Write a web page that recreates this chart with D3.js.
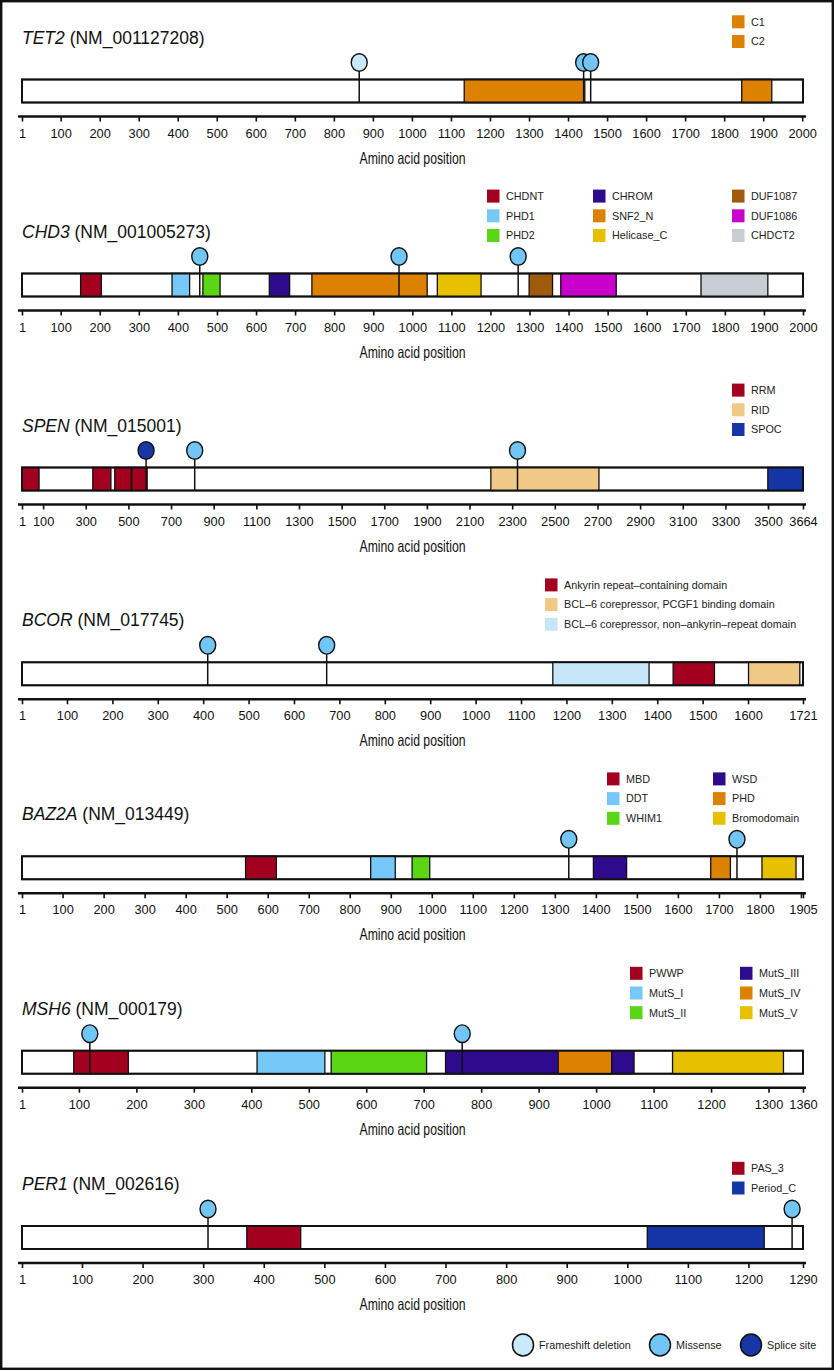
<!DOCTYPE html>
<html><head><meta charset="utf-8">
<script src="https://cdn.jsdelivr.net/npm/d3@7"></script>
<style>
html,body{margin:0;padding:0;background:#fff;}
svg{display:block;}
.t{font-family:"Liberation Sans",Arial,Helvetica,sans-serif;}
</style></head>
<body>
<script>
// ---------------- data ----------------
const genes = ["TET2","CHD3","SPEN","BCOR","BAZ2A","MSH6","PER1"];
const transcripts = ["NM_001127208","NM_001005273","NM_015001","NM_017745","NM_013449","NM_000179","NM_002616"];
const proteinLengths = [2002,2000,3664,1721,1905,1360,1290];

const tet2Ticks = [1,100,200,300,400,500,600,700,800,900,1000,1100,1200,1300,1400,1500,1600,1700,1800,1900,2000];
const chd3Ticks = [1,100,200,300,400,500,600,700,800,900,1000,1100,1200,1300,1400,1500,1600,1700,1800,1900,2000];
const spenTicks = [1,100,300,500,700,900,1100,1300,1500,1700,1900,2100,2300,2500,2700,2900,3100,3300,3500,3664];
const bcorTicks = [1,100,200,300,400,500,600,700,800,900,1000,1100,1200,1300,1400,1500,1600,1721];
const baz2aTicks = [1,100,200,300,400,500,600,700,800,900,1000,1100,1200,1300,1400,1500,1600,1700,1800,1900,1905];
const baz2aUnlabeled = [1900];
const msh6Ticks = [1,100,200,300,400,500,600,700,800,900,1000,1100,1200,1300,1360];
const per1Ticks = [1,100,200,300,400,500,600,700,800,900,1000,1100,1200,1290];

const tet2Domains = [["C1",1134,1443],["C2",1845,1922]];
const chd3Domains = [["CHDNT",151,204],["PHD1",385,430],["PHD2",464,508],["CHROM",634,686],["SNF2_N",743,1038],["Helicase_C",1064,1176],["DUF1087",1299,1359],["DUF1086",1380,1522],["CHDCT2",1739,1910]];
const spenDomains = [["RRM",1,81],["RRM",333,418],["RRM",436,513],["RRM",516,588],["RID",2200,2707],["SPOC",3499,3664]];
const bcorDomains = [["BCL–6 corepressor, non–ankyrin–repeat domain",1170,1382],["Ankyrin repeat–containing domain",1435,1526],["BCL–6 corepressor, PCGF1 binding domain",1601,1714]];
const baz2aDomains = [["MBD",546,621],["DDT",851,911],["WHIM1",952,995],["WSD",1394,1475],["PHD",1680,1728],["Bromodomain",1805,1888]];
const msh6Domains = [["PWWP",91,186],["MutS_I",410,528],["MutS_II",539,705],["MutS_III",738,1066],["MutS_IV",934,1027],["MutS_V",1133,1326]];
const per1Domains = [["PAS_3",372,461],["Period_C",1033,1226]];

const tet2Mutations = [[865,"Frameshift deletion"],[1440,"Missense"],[1458,"Missense"]];
const chd3Mutations = [[456,"Missense"],[966,"Missense"],[1271,"Missense"]];
const spenMutations = [[583,"Splice site"],[811,"Missense"],[2325,"Missense"]];
const bcorMutations = [[410,"Missense"],[672,"Missense"]];
const baz2aMutations = [[1334,"Missense"],[1744,"Missense"]];
const msh6Mutations = [[119,"Missense"],[767,"Missense"]];
const per1Mutations = [[308,"Missense"],[1272,"Missense"]];

const tet2Legend = ["C1","C2"];
const chd3Legend = ["CHDNT","PHD1","PHD2","CHROM","SNF2_N","Helicase_C","DUF1087","DUF1086","CHDCT2"];
const spenLegend = ["RRM","RID","SPOC"];
const bcorLegend = ["Ankyrin repeat–containing domain","BCL–6 corepressor, PCGF1 binding domain","BCL–6 corepressor, non–ankyrin–repeat domain"];
const baz2aLegend = ["MBD","DDT","WHIM1","WSD","PHD","Bromodomain"];
const msh6Legend = ["PWWP","MutS_I","MutS_II","MutS_III","MutS_IV","MutS_V"];
const per1Legend = ["PAS_3","Period_C"];

const mutationTypes = ["Frameshift deletion","Missense","Splice site"];

// ---------------- styles ----------------
const RED="#a3001f", LBLUE="#76c8f8", GREEN="#5bd614", PURPLE="#2e0a8c", ORANGE="#dc8200",
      YELLOW="#e7c000", BROWN="#9f5a0c", MAGENTA="#c900cc", GREY="#c8ccd3", TAN="#f0c987",
      DBLUE="#1535a6", PALE="#c7e6f8";
const domainColor = {
  "C1":ORANGE,"C2":ORANGE,
  "CHDNT":RED,"PHD1":LBLUE,"PHD2":GREEN,"CHROM":PURPLE,"SNF2_N":ORANGE,"Helicase_C":YELLOW,
  "DUF1087":BROWN,"DUF1086":MAGENTA,"CHDCT2":GREY,
  "RRM":RED,"RID":TAN,"SPOC":DBLUE,
  "Ankyrin repeat–containing domain":RED,"BCL–6 corepressor, PCGF1 binding domain":TAN,
  "BCL–6 corepressor, non–ankyrin–repeat domain":PALE,
  "MBD":RED,"DDT":LBLUE,"WHIM1":GREEN,"WSD":PURPLE,"PHD":ORANGE,"Bromodomain":YELLOW,
  "PWWP":RED,"MutS_I":LBLUE,"MutS_II":GREEN,"MutS_III":PURPLE,"MutS_IV":ORANGE,"MutS_V":YELLOW,
  "PAS_3":RED,"Period_C":DBLUE
};
const mutColor = {"Frameshift deletion":"#c9e8fa","Missense":"#72c6f6","Splice site":"#1637a5"};

// ---------------- layout ----------------
const W=834, H=1371;
const X0=22, X1=803, BAR_H=23;
const barTops = [79.5, 273.5, 467.5, 662.3, 856.3, 1050.7, 1226];
const legendCols = [[732],[487,593,732],[732],[545],[607,713],[630,740],[732]];

const panels = genes.map((g,i)=>({
  gene:g, tx:transcripts[i], len:proteinLengths[i],
  ticks:[tet2Ticks,chd3Ticks,spenTicks,bcorTicks,baz2aTicks,msh6Ticks,per1Ticks][i],
  domains:[tet2Domains,chd3Domains,spenDomains,bcorDomains,baz2aDomains,msh6Domains,per1Domains][i],
  muts:[tet2Mutations,chd3Mutations,spenMutations,bcorMutations,baz2aMutations,msh6Mutations,per1Mutations][i],
  legend:[tet2Legend,chd3Legend,spenLegend,bcorLegend,baz2aLegend,msh6Legend,per1Legend][i],
  top:barTops[i], cols:legendCols[i]
}));

const svg = d3.select("body").append("svg").attr("width",W).attr("height",H);
svg.append("rect").attr("width",W).attr("height",H).attr("fill","#fff");

panels.forEach(p=>{
  const g = svg.append("g");
  const x = d3.scaleLinear().domain([1,p.len]).range([X0,X1]);
  const top = p.top, bot = top+BAR_H;

  // title
  const t = g.append("text").attr("class","t").attr("x",22).attr("y",top-36)
    .attr("font-size",17.5).attr("fill","#111");
  t.append("tspan").attr("font-style","italic").text(p.gene);
  t.append("tspan").text(" ("+p.tx+")");

  // legend
  const nRows = Math.min(3,p.legend.length);
  p.legend.forEach((name,k)=>{
    const col = Math.floor(k/3), row = k%3;
    const cy = top-38-(nRows-1-row)*19.7;
    const lx = p.cols[col];
    g.append("rect").attr("x",lx).attr("y",cy-6.5).attr("width",12.5).attr("height",13)
      .attr("fill",domainColor[name]);
    g.append("text").attr("class","t").attr("x",lx+19).attr("y",cy+3.8)
      .attr("font-size",10.8).attr("fill","#222").text(name);
  });

  // protein bar
  g.append("rect").attr("x",x(1)).attr("y",top).attr("width",x(p.len)-x(1)).attr("height",BAR_H)
    .attr("fill","#fff").attr("stroke","#111").attr("stroke-width",1.8);
  g.selectAll("rect.dom").data(p.domains).join("rect").attr("class","dom")
    .attr("x",d=>x(d[1])).attr("y",top).attr("width",d=>x(d[2])-x(d[1])).attr("height",BAR_H)
    .attr("fill",d=>domainColor[d[0]]).attr("stroke","#111").attr("stroke-width",1.3);
  g.append("rect").attr("x",x(1)).attr("y",top).attr("width",x(p.len)-x(1)).attr("height",BAR_H)
    .attr("fill","none").attr("stroke","#111").attr("stroke-width",1.8);

  // mutations
  const cy = top-17, rx=8, ry=8.8;
  g.selectAll("line.stem").data(p.muts).join("line").attr("class","stem")
    .attr("x1",d=>x(d[0])).attr("x2",d=>x(d[0])).attr("y1",cy+ry).attr("y2",bot)
    .attr("stroke","#111").attr("stroke-width",1.5);
  g.selectAll("ellipse.mut").data(p.muts).join("ellipse").attr("class","mut")
    .attr("cx",d=>x(d[0])).attr("cy",cy).attr("rx",rx).attr("ry",ry)
    .attr("fill",d=>mutColor[d[1]]).attr("stroke","#111").attr("stroke-width",1.4);

  // axis
  const ay = bot+14;
  const axis = d3.axisBottom(x).tickValues(p.ticks).tickSize(5).tickPadding(7)
    .tickFormat(v=> (p.gene==="BAZ2A" && baz2aUnlabeled.includes(v)) ? "" : d3.format("d")(v));
  const ag = g.append("g").attr("transform",`translate(0,${ay})`).call(axis);
  ag.select(".domain").remove();
  ag.selectAll(".tick line").attr("stroke","#111").attr("stroke-width",1.6);
  ag.selectAll(".tick text").attr("font-size",12.8).attr("fill","#111")
    .attr("font-family","'Liberation Sans',Arial,sans-serif");
  g.append("line").attr("x1",x(1)-4).attr("x2",x(p.len)+3).attr("y1",ay).attr("y2",ay)
    .attr("stroke","#111").attr("stroke-width",2.4);

  g.append("text").attr("class","t").attr("x",(X0+X1)/2).attr("y",ay+47)
    .attr("text-anchor","middle").attr("font-size",16.5).attr("fill","#111")
    .attr("textLength",106).attr("lengthAdjust","spacingAndGlyphs")
    .text("Amino acid position");
});

// mutation type legend
const mutLegendX = [523,660,751];
mutationTypes.forEach((m,i)=>{
  svg.append("ellipse").attr("cx",mutLegendX[i]).attr("cy",1345).attr("rx",10.5).attr("ry",11)
    .attr("fill",mutColor[m]).attr("stroke","#111").attr("stroke-width",1.5);
  svg.append("text").attr("class","t").attr("x",mutLegendX[i]+16).attr("y",1348.8)
    .attr("font-size",10.8).attr("fill","#222").text(m);
});

// frame
svg.append("rect").attr("x",1.2).attr("y",1.2).attr("width",W-2.4).attr("height",H-3.4)
  .attr("fill","none").attr("stroke","#111").attr("stroke-width",2.4);
</script>
</body></html>
